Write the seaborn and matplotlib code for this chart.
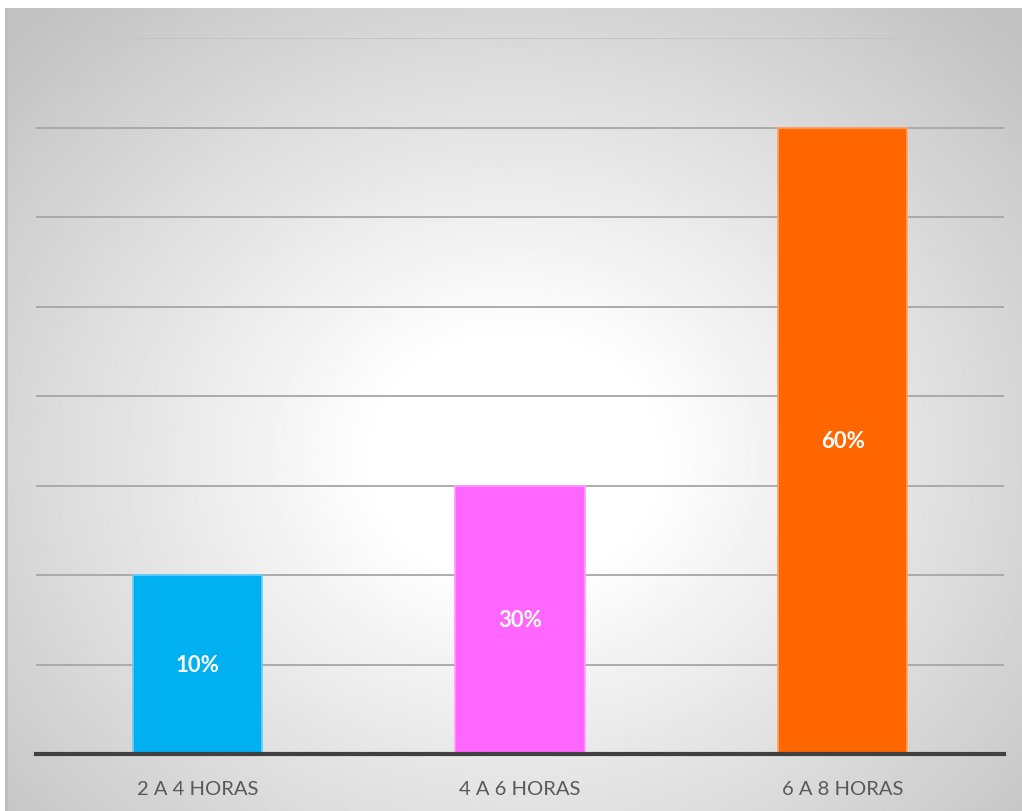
import numpy as np
import matplotlib.pyplot as plt
import pandas as pd
import seaborn as sns

# data (bar heights in grid units, labels as printed)
categories = ["2 A 4 HORAS", "4 A 6 HORAS", "6 A 8 HORAS"]
heights = [2, 3, 7]
labels = ["10%", "30%", "60%"]
colors = ["#00B0F0", "#FF66FF", "#FF6600"]
edge_colors = ["#66D0F6", "#FF99FF", "#FFA366"]

sns.set_theme(style="white")
plt.rcParams['font.family'] = ['Lato', 'DejaVu Sans']

fig = plt.figure(figsize=(10.22, 8.12), dpi=100)
fig.patch.set_facecolor("white")

# radial gradient background panel
bg = fig.add_axes([5 / 1022, 0, 1017 / 1022, 803 / 812])
bg.set_axis_off()
h, w = 400, 510
yy, xx = np.mgrid[0:h, 0:w]
cx, cy = 0.50 * w, 0.56 * h
r = np.sqrt(((xx - cx) / (0.55 * w)) ** 2 + ((yy - cy) / (0.60 * h)) ** 2)
shade = 1.0 - 0.24 * np.clip((r - 0.25) / 1.0, 0, 1)
bg.imshow(shade, cmap="gray", vmin=0, vmax=1, aspect="auto", interpolation="bilinear")
bg.axvline(0, color="#bdbdbd", lw=2)

# main plot
ax = fig.add_axes([36 / 1022, (812 - 755) / 812, 968 / 1022, (755 - 39) / 812])
ax.patch.set_alpha(0)

df = pd.DataFrame({"cat": categories, "val": heights})
sns.barplot(data=df, x="cat", y="val", hue="cat", palette=colors, width=0.4,
            saturation=1, legend=False, ax=ax, zorder=3)
for patch, ec in zip(ax.patches, edge_colors):
    patch.set_edgecolor(ec)
    patch.set_linewidth(1.2)

ax.set_ylim(0, 8)
ax.set_xlim(-0.5, 2.5)
ax.set_yticks(range(1, 9))
ax.yaxis.grid(True, color="#a6a6a6", lw=1.3, zorder=0)
ax.get_ygridlines()[-1].set_color("#c4c4c4")
ax.set_axisbelow(True)
ax.tick_params(axis="y", left=False, labelleft=False)
ax.tick_params(axis="x", bottom=False, pad=13, labelsize=14.5, labelcolor="#595959")
ax.set_xlabel("")
ax.set_ylabel("")
for s in ["top", "right", "left"]:
    ax.spines[s].set_visible(False)
ax.spines["bottom"].set_color("#404040")
ax.spines["bottom"].set_linewidth(3)
ax.spines["bottom"].set_zorder(5)

for i, (v, lab) in enumerate(zip(heights, labels)):
    ax.text(i, v / 2, lab, ha="center", va="center", color="white",
            fontsize=16, fontweight="bold", zorder=6)

fig.savefig("out.png", dpi=100)
